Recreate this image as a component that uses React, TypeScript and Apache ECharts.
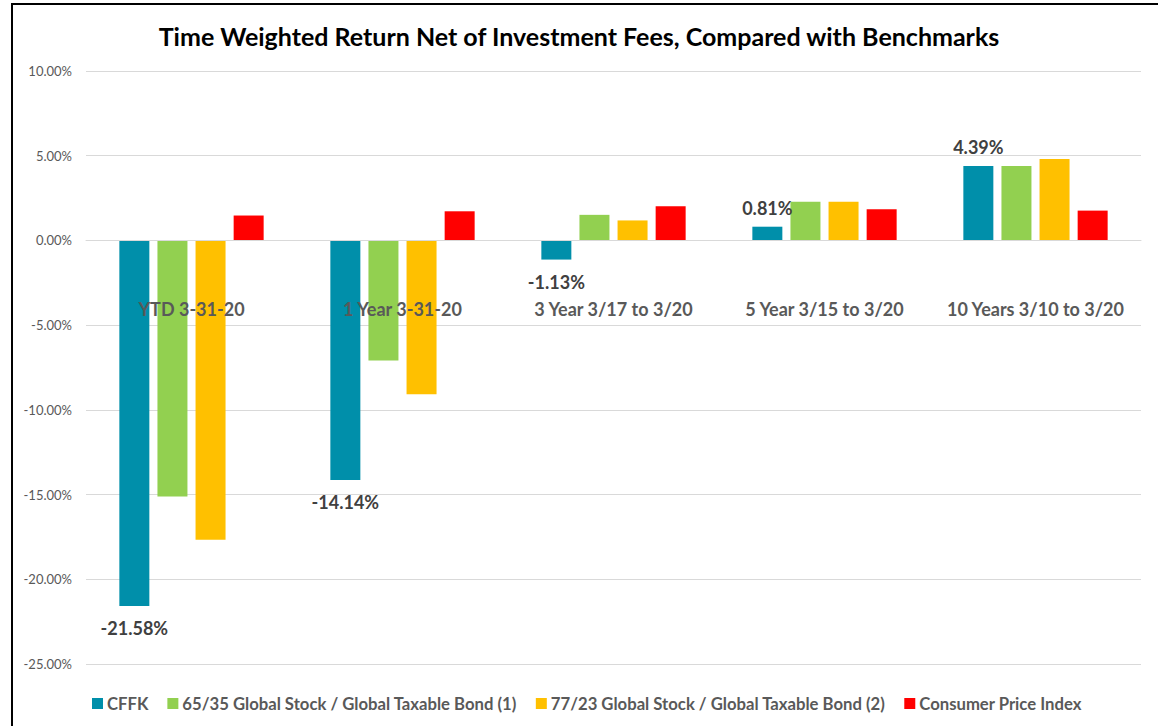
import React, { useEffect, useRef } from "react";
import * as echarts from "echarts";

const categories = [
  "YTD 3-31-20",
  "1 Year 3-31-20",
  "3 Year 3/17 to 3/20",
  "5 Year 3/15 to 3/20",
  "10 Years 3/10 to 3/20",
];
const seriesNames = [
  "CFFK",
  "65/35 Global Stock / Global Taxable Bond (1)",
  "77/23 Global Stock / Global Taxable Bond (2)",
  "Consumer Price Index",
];
const cffk = [-21.58, -14.14, -1.13, 0.81, 4.39];
const stock6535 = [-15.11, -7.09, 1.51, 2.29, 4.4];
const stock7723 = [-17.66, -9.08, 1.18, 2.29, 4.8];
const cpi = [1.47, 1.72, 2.02, 1.84, 1.76];
const colors = ["#008FAA", "#92D050", "#FFC000", "#FF0000"];
const yTicks = { min: -25, max: 10, interval: 5 };

const FONT = "Lato, 'Open Sans', sans-serif";

export default function App() {
  const ref = useRef<HTMLDivElement>(null);
  useEffect(() => {
    if (!ref.current) return;
    const chart = echarts.init(ref.current, null, { renderer: "svg" });
    const allData = [cffk, stock6535, stock7723, cpi];
    chart.setOption({
      animation: false,
      textStyle: { fontFamily: FONT },
      title: {
        text: "Time Weighted Return Net of Investment Fees, Compared with Benchmarks",
        left: "center",
        top: 18,
        textStyle: { fontFamily: FONT, fontSize: 25, fontWeight: "bold", color: "#000" },
      },
      graphic: [
        {
          type: "rect",
          shape: { x: 12, y: 4, width: 1170, height: 740 },
          style: { fill: "none", stroke: "#000", lineWidth: 2 },
          z: -1,
          silent: true,
        },
      ],
      legend: {
        left: 87,
        top: 690,
        icon: "rect",
        itemWidth: 11,
        itemHeight: 11,
        itemGap: 19,
        textStyle: { fontFamily: FONT, fontSize: 16.7, fontWeight: "bold", color: "#595959", padding: [0, 0, 0, -1] },
        data: seriesNames,
      },
      grid: { left: 86, right: 17, top: 71, bottom: 62, containLabel: false, outerBoundsMode: "none" },
      xAxis: {
        type: "category",
        data: categories,
        z: 10,
        position: "bottom",
        offset: -424,
        axisLine: { onZero: false, lineStyle: { color: "#d9d9d9", width: 1 } },
        axisTick: { show: false },
        axisLabel: {
          interval: 0,
          hideOverlap: false,
          margin: 60,
          fontFamily: FONT,
          fontSize: 18,
          fontWeight: "bold",
          color: "#595959",
        },
      },
      yAxis: {
        type: "value",
        min: yTicks.min,
        max: yTicks.max,
        interval: yTicks.interval,
        axisLine: { show: false },
        axisTick: { show: false },
        splitLine: { lineStyle: { color: "#d9d9d9", width: 1 } },
        axisLabel: {
          margin: 14,
          fontFamily: FONT,
          fontSize: 13,
          color: "#595959",
          formatter: (v: number) => v.toFixed(2) + "%",
        },
      },
      series: seriesNames.map((name, i) => ({
        name,
        type: "bar",
        barWidth: 30,
        barGap: "27%",
        itemStyle: { color: colors[i] },
        data: allData[i].map((v) =>
          i === 0
            ? {
                value: v,
                label: {
                  show: true,
                  position: v < 0 ? "bottom" : "top",
                  distance: v < 0 ? 13 : 10,
                  formatter: (p: any) => p.value.toFixed(2) + "%",
                  fontFamily: FONT,
                  fontSize: 18,
                  fontWeight: "bold",
                  color: "#404040",
                },
              }
            : { value: v }
        ),
      })),
    });
    return () => chart.dispose();
  }, []);
  return (
    <div
      ref={ref}
      style={{ position: "fixed", left: 0, top: 0, width: 1158, height: 726, background: "#fff" }}
    />
  );
}
